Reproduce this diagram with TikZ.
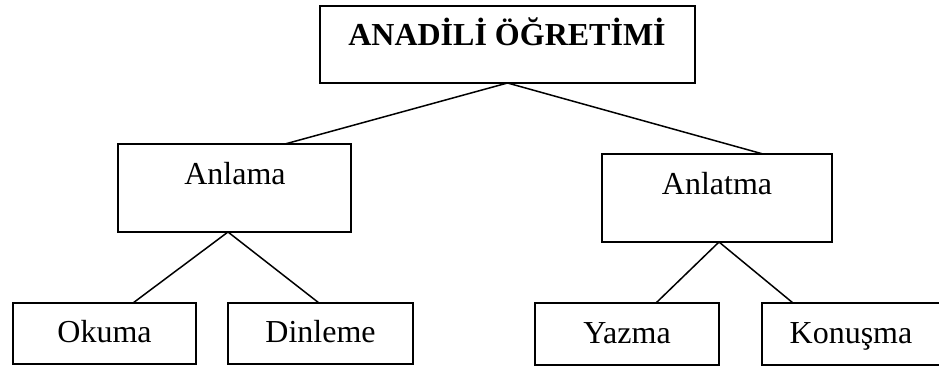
\documentclass[tikz,border=0pt]{standalone}
\usepackage{fontspec}
\setmainfont{Liberation Serif}
\begin{document}
\begin{tikzpicture}[x=1pt,y=-1pt,
  box/.style={draw=black,line width=1.6pt,rectangle,inner sep=0pt,outer sep=0pt},
  lbl/.style={anchor=base,inner sep=0pt,font=\fontsize{32}{33}\selectfont},
  conn/.style={draw=black,line width=1.5pt}]
\useasboundingbox (0,0) rectangle (939,366);
% boxes
\node[box,minimum width=375pt,minimum height=77pt] (root) at (507.5,44.5) {};
\node[box,minimum width=233pt,minimum height=88pt] (anlama) at (234.5,188) {};
\node[box,minimum width=230pt,minimum height=88pt] (anlatma) at (717,198) {};
\node[box,minimum width=183pt,minimum height=61pt] (okuma) at (104.5,333.5) {};
\node[box,minimum width=185pt,minimum height=61pt] (dinleme) at (320.5,333.5) {};
\node[box,minimum width=184pt,minimum height=62pt] (yazma) at (627,334) {};
\node[box,minimum width=200pt,minimum height=62pt] (konusma) at (862,334) {};
% labels
\node[lbl,font=\fontsize{32}{33}\selectfont\bfseries] (troot) at (507,46) {ANADİLİ ÖĞRETİMİ};
\node[lbl] (tanlama) at (235,185) {Anlama};
\node[lbl] (tanlatma) at (717,195) {Anlatma};
\node[lbl] (tokuma) at (104.5,342) {Okuma};
\node[lbl] (tdinleme) at (320.5,342) {Dinleme};
\node[lbl] (tyazma) at (627,343) {Yazma};
\node[lbl] (tkonusma) at (851,343) {Konuşma};
% connectors
\draw[conn] (root.south) -- ([xshift=50.5pt]anlama.north);
\draw[conn] (root.south) -- ([xshift=46pt]anlatma.north);
\draw[conn] ([xshift=-6.5pt]anlama.south) -- ([xshift=28.5pt]okuma.north);
\draw[conn] ([xshift=-6.5pt]anlama.south) -- ([xshift=-1.5pt]dinleme.north);
\draw[conn] ([xshift=2pt]anlatma.south) -- ([xshift=29pt]yazma.north);
\draw[conn] ([xshift=2pt]anlatma.south) -- ([xshift=-69pt]konusma.north);
\end{tikzpicture}
\end{document}
